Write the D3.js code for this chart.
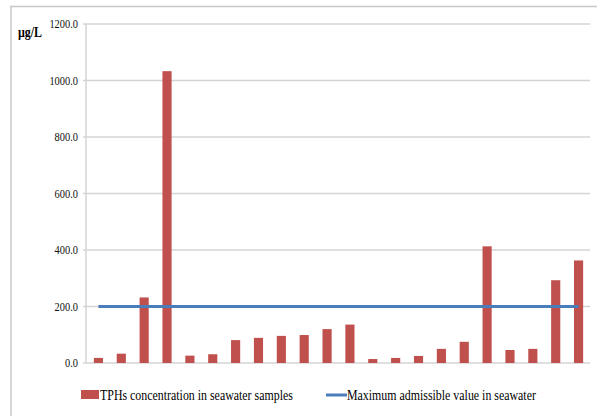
<!DOCTYPE html>
<html><head><meta charset="utf-8">
<script src="https://cdn.jsdelivr.net/npm/d3@7"></script>
<style>body{margin:0;background:#fff}svg{display:block}</style>
</head><body><svg id="c" width="597" height="416" font-family="'Liberation Serif', 'DejaVu Serif', serif"></svg>
<script>
const samples = d3.range(1, 23).map(String);
const tphValues = [18, 33, 232, 1033, 26, 31, 81, 89, 96, 99, 120, 136, 14, 18, 25, 50, 75, 413, 46, 50, 293, 363];
const maxAdmissible = 200;
const yTicks = [0, 200, 400, 600, 800, 1000, 1200];
const unitLabel = "µg/L";
const legendLabels = ["TPHs concentration in seawater samples", "Maximum admissible value in seawater"];

(function () {
const svg = d3.select("#c");
const pL = 87, pR = 590, pT = 24, pB = 363;
const x = d3.scaleBand().domain(samples).range([pL, pR]).paddingInner(0.6).paddingOuter(0.3);
const y = d3.scaleLinear().domain([0, 1200]).range([pB, pT]);

// frame
svg.append("line").attr("x1", 10).attr("x2", 597).attr("y1", 6.5).attr("y2", 6.5).attr("stroke", "#c8c8c8").attr("stroke-width", 1.5);
svg.append("line").attr("x1", 11).attr("x2", 11).attr("y1", 6).attr("y2", 416).attr("stroke", "#c8c8c8").attr("stroke-width", 1.5);

// gridlines
svg.append("g").selectAll("line").data(yTicks).join("line")
  .attr("x1", 83).attr("x2", pR).attr("y1", d => y(d)).attr("y2", d => y(d))
  .attr("stroke", "#d4d4d4").attr("stroke-width", 1.5);
svg.append("line").attr("x1", pL - 1).attr("x2", pL - 1).attr("y1", pT).attr("y2", pB)
  .attr("stroke", "#d4d4d4").attr("stroke-width", 1.5);

// y tick labels
const fmt = d3.format(".1f");
svg.append("g").selectAll("text").data(yTicks).join("text")
  .attr("font-family", "'Liberation Serif', 'DejaVu Serif', serif")
  .attr("transform", d => `translate(78,${y(d) + 4}) scale(0.8,1)`)
  .attr("text-anchor", "end").attr("font-size", 13).attr("fill", "#111").text(d => fmt(d));

svg.append("text").attr("transform", "translate(18,37) scale(0.85,1)")
  .attr("font-family", "'Liberation Serif', 'DejaVu Serif', serif")
  .attr("font-size", 14).attr("font-weight", "bold").text(unitLabel);

// bars
svg.append("g").selectAll("rect").data(tphValues).join("rect")
  .attr("x", (d, i) => x(samples[i])).attr("width", x.bandwidth())
  .attr("y", d => y(d)).attr("height", d => y(0) - y(d))
  .attr("fill", "#c0504d");

// max admissible line
const firstC = x(samples[0]) + x.bandwidth() / 2, lastC = x(samples[samples.length - 1]) + x.bandwidth() / 2;
svg.append("line").attr("x1", firstC).attr("x2", lastC).attr("y1", y(maxAdmissible)).attr("y2", y(maxAdmissible))
  .attr("stroke", "#4a7ebb").attr("stroke-width", 3);

// legend
const ly = 395;
svg.append("rect").attr("x", 81).attr("y", ly - 5).attr("width", 18).attr("height", 9).attr("fill", "#c0504d");
svg.append("text").attr("transform", `translate(100,${ly + 5}) scale(0.85,1)`)
  .attr("font-family", "'Liberation Serif', 'DejaVu Serif', serif").attr("font-size", 14).text(legendLabels[0]);
svg.append("line").attr("x1", 326).attr("x2", 347).attr("y1", ly).attr("y2", ly).attr("stroke", "#4a7ebb").attr("stroke-width", 3);
svg.append("text").attr("transform", `translate(347,${ly + 5}) scale(0.85,1)`)
  .attr("font-family", "'Liberation Serif', 'DejaVu Serif', serif").attr("font-size", 14).text(legendLabels[1]);
})();
</script></body></html>
